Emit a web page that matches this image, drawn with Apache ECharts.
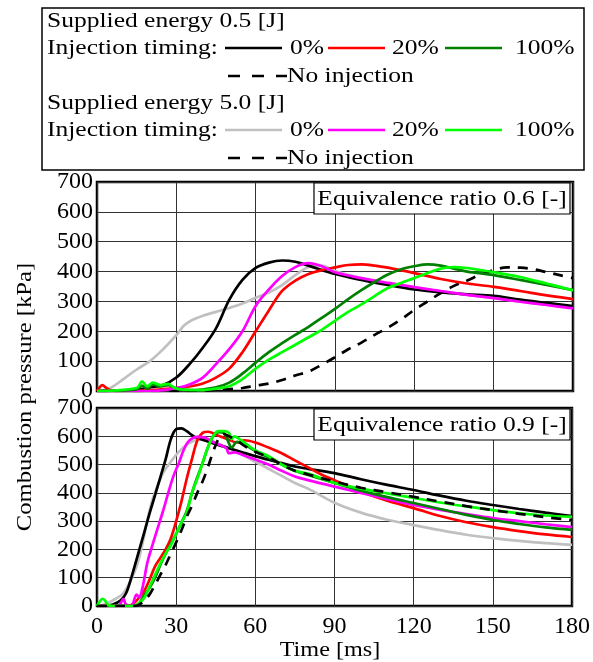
<!DOCTYPE html>
<html>
<head>
<meta charset="utf-8">
<script src="https://cdn.jsdelivr.net/npm/echarts@6/dist/echarts.min.js"></script>
<style>
  html, body { margin: 0; padding: 0; background: #fff; }
  #chart { width: 593px; height: 662px; }
</style>
</head>
<body>
<div id="chart"></div>
<script>
// 轴刻度
const xTicks = [0, 30, 60, 90, 120, 150, 180];
const yTicks = [0, 100, 200, 300, 400, 500, 600, 700];

// 当量比 0.6 (上图) —— [时间 ms, 压力 kPa]
const top05_0 = [[0,0],[10,2],[15,5],[20,12],[25,20],[30,45],[35,90],[40,145],[45,210],[50,305],[55,372],[60,412],[65,430],[70,437],[75,433],[80,420],[90,392],[100,372],[110,355],[120,340],[130,330],[140,324],[150,319],[160,306],[170,295],[180,284]];
const top05_20 = [[0,0],[1,12],[2,20],[3,14],[5,3],[10,0],[20,2],[30,10],[35,15],[40,25],[45,45],[50,75],[55,130],[60,200],[65,270],[70,335],[75,370],[80,392],[85,405],[90,414],[95,422],[100,424],[105,420],[110,413],[120,395],[130,375],[140,360],[150,349],[160,335],[170,320],[180,308]];
const top05_100 = [[0,0],[15,5],[17,18],[19,8],[21,22],[24,15],[27,20],[30,8],[35,3],[40,5],[45,12],[50,28],[55,58],[60,95],[65,130],[70,160],[75,188],[80,215],[85,245],[90,275],[95,308],[100,338],[105,365],[110,390],[115,408],[120,418],[125,424],[130,420],[135,410],[140,400],[150,388],[160,372],[170,355],[180,338]];
const top05_none = [[0,0],[30,0],[40,2],[50,6],[55,10],[60,18],[65,25],[70,37],[75,52],[80,65],[85,88],[90,113],[95,140],[100,162],[105,188],[110,212],[115,240],[120,272],[125,300],[130,328],[135,352],[140,370],[145,390],[150,405],[155,414],[160,413],[165,408],[170,398],[175,388],[180,378]];
const top50_0 = [[0,0],[5,10],[10,40],[15,72],[20,100],[25,140],[30,187],[33,220],[36,238],[40,252],[45,265],[50,278],[55,293],[60,312],[65,330],[70,355],[75,388],[80,415],[85,420],[90,402],[100,378],[110,360],[120,345],[130,333],[140,322],[150,312],[160,300],[170,289],[180,279]];
const top50_20 = [[0,0],[20,0],[25,3],[30,10],[35,22],[40,45],[45,90],[50,140],[55,200],[60,285],[65,340],[70,385],[75,415],[80,428],[85,418],[90,398],[100,378],[110,362],[120,348],[130,335],[140,322],[150,311],[160,299],[170,288],[180,277]];
const top50_100 = [[0,0],[15,10],[17,32],[19,15],[21,28],[24,20],[27,24],[29,12],[32,5],[40,3],[45,8],[50,16],[55,40],[60,75],[65,105],[70,130],[75,155],[80,180],[85,205],[90,235],[95,265],[100,290],[105,318],[110,345],[115,362],[120,378],[125,395],[130,410],[135,415],[140,412],[145,405],[150,398],[160,382],[170,360],[180,337]];

// 当量比 0.9 (下图)
const bot05_0 = [[0,0],[3,0],[6,5],[9,20],[11,45],[13,100],[15,165],[18,263],[20,330],[22,392],[24,455],[26,518],[28,590],[30,625],[32,628],[34,618],[37,598],[40,588],[45,572],[50,558],[55,543],[60,530],[65,517],[70,505],[75,493],[80,485],[90,470],[100,448],[110,428],[120,410],[130,390],[140,372],[150,357],[160,343],[170,330],[180,318]];
const bot05_20 = [[0,0],[12,0],[14,10],[16,30],[18,55],[20,95],[22,140],[24,170],[26,200],[28,240],[30,300],[32,370],[34,450],[36,520],[38,585],[40,612],[42,616],[44,611],[47,598],[50,588],[53,578],[56,586],[60,578],[65,560],[70,540],[75,515],[80,490],[85,465],[90,445],[100,405],[110,372],[120,346],[130,318],[140,296],[150,279],[160,265],[170,253],[180,244]];
const bot05_100 = [[0,0],[14,0],[16,10],[18,40],[20,65],[22,100],[24,145],[26,185],[28,220],[30,255],[32,295],[34,335],[36,400],[38,455],[40,505],[42,560],[44,600],[46,615],[48,612],[50,575],[51,560],[53,580],[56,570],[60,548],[65,525],[70,500],[75,478],[80,463],[90,435],[100,408],[110,385],[120,364],[130,343],[140,322],[150,304],[160,290],[170,278],[180,269]];
const bot05_none = [[0,0],[14,0],[16,5],[18,20],[20,42],[22,75],[24,110],[26,145],[28,185],[30,225],[32,268],[34,315],[36,355],[38,400],[40,440],[42,490],[44,545],[46,590],[48,608],[50,600],[53,585],[56,565],[60,545],[65,525],[70,500],[75,478],[80,465],[90,440],[100,418],[110,402],[120,386],[130,369],[140,353],[150,339],[160,326],[170,314],[180,304]];
const bot50_0 = [[0,0],[2,3],[4,10],[7,25],[10,45],[13,95],[15,140],[17,210],[19,300],[21,375],[23,425],[25,470],[28,510],[31,545],[34,570],[37,585],[40,590],[43,585],[47,570],[50,558],[55,535],[60,510],[65,485],[70,460],[75,435],[80,415],[90,365],[100,330],[110,305],[120,286],[130,268],[140,252],[150,240],[160,230],[170,222],[180,216]];
const bot50_20 = [[0,0],[8,0],[10,25],[11,5],[13,0],[15,40],[16,30],[17,55],[18,100],[19,150],[21,215],[23,275],[25,335],[27,400],[29,460],[31,505],[33,555],[35,585],[38,598],[41,595],[44,580],[47,568],[49,558],[50,540],[52,543],[55,535],[60,518],[65,500],[70,478],[75,458],[80,445],[90,422],[100,400],[110,378],[120,357],[130,340],[140,325],[150,311],[160,300],[170,289],[180,279]];
const bot50_100 = [[0,0],[1,15],[2,25],[3,20],[4,5],[6,0],[14,0],[16,10],[18,30],[20,70],[22,110],[24,150],[26,185],[28,215],[30,255],[32,295],[34,330],[36,400],[38,450],[40,505],[42,560],[44,600],[46,618],[48,618],[50,612],[51,590],[52,600],[54,590],[57,570],[60,550],[65,530],[70,500],[75,478],[80,468],[90,435],[100,415],[110,398],[120,382],[130,366],[140,352],[150,339],[160,328],[170,320],[180,315]];

const FONT = 'Liberation Serif';

const chart = echarts.init(document.getElementById('chart'));

function mkSeries(idx, data, color, dashed) {
    return {
        type: 'line',
        xAxisIndex: idx,
        yAxisIndex: idx,
        data: data,
        showSymbol: false,
        smooth: 0.35,
        lineStyle: { color: color, width: 2.7, type: dashed ? [10, 8] : 'solid' },
        silent: true
    };
}

function mkY(idx) {
    return {
        type: 'value', gridIndex: idx, min: 0, max: 700, interval: 100,
        axisLine: { show: false },
        axisTick: { show: false },
        splitLine: { lineStyle: { color: '#333', width: 1 } },
        axisLabel: { fontFamily: FONT, fontSize: 24, color: '#000', margin: 4,
            formatter: v => yTicks.includes(v) ? String(v) : '' }
    };
}

function mkX(idx, showLabel) {
    return {
        type: 'value', gridIndex: idx, min: 0, max: 180, interval: 30,
        axisLine: { show: false },
        axisTick: { show: false },
        splitLine: { lineStyle: { color: '#333', width: 1 } },
        axisLabel: { show: showLabel, fontFamily: FONT, fontSize: 24, color: '#000', margin: 9,
            formatter: v => xTicks.includes(v) ? String(v) : '' }
    };
}

// 图例 (自定义排版)
const legendRows = [
    { title: 'Supplied energy 0.5 [J]', y: 21, colors: ['#000000', '#ff0000', '#008000'] },
    { title: 'Supplied energy 5.0 [J]', y: 103, colors: ['#c0c0c0', '#ff00ff', '#00ff00'] }
];
const timingLabels = ['0%', '20%', '100%'];
const keyX = [[225, 282, 290], [328, 385, 392], [445, 502, 515]];

// 文字横向拉伸 (原图字体偏宽)
const txt = (x, y, s, size, sx, align) => ({ type: 'text', x: x, y: y, scaleX: sx,
    style: { text: s, font: size + 'px "' + FONT + '"', fill: '#000', align: align || 'left', verticalAlign: 'middle' } });

const legendGraphics = [{
    type: 'rect', shape: { x: 42, y: 8, width: 542, height: 162 },
    style: { fill: '#fff', stroke: '#000', lineWidth: 1.5 }
}];
legendRows.forEach(r => {
    legendGraphics.push(txt(47, r.y, r.title, 22, 1.16));
    legendGraphics.push(txt(47, r.y + 27, 'Injection timing:', 22, 1.16));
    r.colors.forEach((c, i) => {
        legendGraphics.push({ type: 'line', shape: { x1: keyX[i][0], y1: r.y + 27, x2: keyX[i][1], y2: r.y + 27 },
            style: { stroke: c, lineWidth: 2.5 } });
        legendGraphics.push(txt(keyX[i][2], r.y + 27, timingLabels[i], 22, 1.16));
    });
    legendGraphics.push({ type: 'line', shape: { x1: 228, y1: r.y + 55, x2: 287, y2: r.y + 55 },
        style: { stroke: '#000', lineWidth: 2.5, lineDash: [12, 12] } });
    legendGraphics.push(txt(287, r.y + 55, 'No injection', 22, 1.16));
});

function ratioBox(y, label) {
    const t = txt(442, y + 16, label, 22, 1.16, 'center');
    t.z = 11;
    return [{
        type: 'rect', shape: { x: 314, y: y, width: 256, height: 31 },
        style: { fill: '#fff', stroke: '#000', lineWidth: 1.2 }, z: 10
    }, t];
}

const yName = txt(25, 397, 'Combustion pressure [kPa]', 22, 1.12, 'center');
yName.rotation = Math.PI / 2;

const option = {
    animation: false,
    backgroundColor: '#fff',
    grid: [
        { left: 97, top: 182, width: 476, height: 209, show: true, borderColor: '#000', borderWidth: 2.5, backgroundColor: 'transparent' },
        { left: 97, top: 408, width: 476, height: 198, show: true, borderColor: '#000', borderWidth: 2.5, backgroundColor: 'transparent' }
    ],
    xAxis: [mkX(0, false), mkX(1, true)],
    yAxis: [mkY(0), mkY(1)],
    series: [
        mkSeries(0, top05_none, '#000000', true),
        mkSeries(0, top50_0, '#c0c0c0'),
        mkSeries(0, top05_0, '#000000'),
        mkSeries(0, top05_20, '#ff0000'),
        mkSeries(0, top50_20, '#ff00ff'),
        mkSeries(0, top05_100, '#008000'),
        mkSeries(0, top50_100, '#00ff00'),
        mkSeries(1, bot50_0, '#c0c0c0'),
        mkSeries(1, bot05_0, '#000000'),
        mkSeries(1, bot05_20, '#ff0000'),
        mkSeries(1, bot50_20, '#ff00ff'),
        mkSeries(1, bot05_100, '#008000'),
        mkSeries(1, bot50_100, '#00ff00'),
        mkSeries(1, bot05_none, '#000000', true)
    ],
    graphic: legendGraphics
        .concat(ratioBox(183, 'Equivalence ratio 0.6 [-]'))
        .concat(ratioBox(409, 'Equivalence ratio 0.9 [-]'))
        .concat([yName, txt(330, 650, 'Time [ms]', 22, 1.1, 'center')])
};

chart.setOption(option);
</script>
</body>
</html>
